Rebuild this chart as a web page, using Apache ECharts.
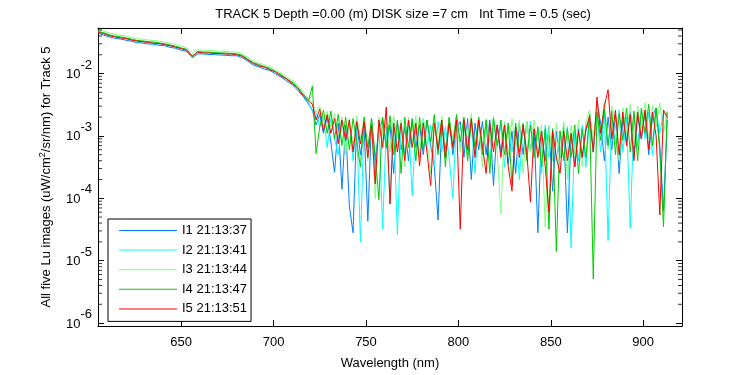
<!doctype html>
<html><head><meta charset="utf-8" />
<style>html,body,#app{margin:0;padding:0;width:750px;height:375px;background:#fff}</style>
</head><body><div id="app"></div>
<script src="https://cdn.jsdelivr.net/npm/echarts@6/dist/echarts.min.js"></script>
<script>
// wavelength grid (nm): coarse over the smooth part, finer over the noisy tail
const wavelength = [605,608,611,614,617,620,623,626,629,632,635,638,641,644,647,650,653,656,659,662,665,668,671,674,677,680,683,686,689,692,695,698,701,704,707,710,713,716,719,
  721,723,725,727,729,731,733,735,737,739,741,743,745,747,749,751,753,755,757,759,761,763,765,767,769,771,773,775,777,779,781,783,785,787,789,791,793,795,797,799,
  801,803,805,807,809,811,813,815,817,819,821,823,825,827,829,831,833,835,837,839,841,843,845,847,849,851,853,855,857,859,861,863,865,867,869,871,873,875,877,879,
  881,883,885,887,889,891,893,895,897,899,901,903,905,907,909,911,913];

// Lu, uW/cm^2/sr/nm, one list per image
const lu1 = [0.0445,0.0412,0.0388,0.0368,0.0358,0.0343,0.0330,0.0312,0.0309,0.0298,0.0295,0.0284,0.0279,0.0263,0.0254,0.0237,0.0226,0.0180,0.0206,0.0206,0.0202,0.0201,0.0198,0.0196,0.0193,0.0193,0.0180,0.0158,0.0137,0.0128,0.0118,0.0112,0.0099,0.0088,0.0076,0.0067,0.0054,0.0043,0.0032,
  2.6e-3,1.5e-3,2.2e-3,1.1e-3,2.0e-3,8.0e-4,2.6e-4,1.6e-3,1.4e-4,1.5e-3,
  7.6e-5,2.8e-5,1.7e-3,5.0e-4,1.4e-3,4.3e-5,1.8e-3,4.0e-4,1.2e-3,1.9e-3,
  6.3e-4,1.5e-3,2.5e-4,1.7e-3,6.0e-4,1.4e-3,4.0e-4,1.9e-3,6.5e-4,1.5e-3,
  5.0e-4,1.8e-3,7.0e-4,3.2e-4,4.5e-5,1.6e-3,6.0e-4,1.9e-3,5.0e-4,1.4e-3,
  1.7e-3,4.5e-4,1.9e-3,2.0e-4,1.6e-3,6.0e-4,1.7e-3,5.0e-4,1.8e-3,1.6e-4,
  1.5e-3,5.5e-4,1.6e-3,3.5e-4,1.2e-3,2.5e-4,1.6e-3,5.0e-4,1.7e-3,6.0e-4,
  1.3e-3,2.8e-5,1.2e-3,4.0e-4,1.4e-3,1.3e-4,1.2e-3,4.5e-4,1.5e-3,2.8e-5,
  1.1e-3,3.2e-4,1.3e-3,4.5e-4,1.2e-3,1.9e-3,5.5e-4,3.2e-3,1.6e-3,4.0e-4,
  2.0e-3,6.0e-4,2.2e-3,2.5e-4,1.9e-3,8.0e-4,2.4e-3,5.5e-4,2.1e-3,9.0e-4,
  2.4e-3,5.0e-4,2.0e-3,2.8e-3,7.0e-4,6.3e-5,1.8e-3];
const lu2 = [0.0462,0.0440,0.0410,0.0386,0.0378,0.0360,0.0349,0.0328,0.0326,0.0313,0.0311,0.0300,0.0294,0.0277,0.0268,0.0249,0.0238,0.0188,0.0218,0.0217,0.0213,0.0212,0.0208,0.0208,0.0203,0.0203,0.0192,0.0167,0.0144,0.0135,0.0125,0.0118,0.0104,0.0094,0.0080,0.0071,0.0057,0.0046,0.0034,
  2.5e-3,2.4e-3,1.4e-3,2.0e-3,6.5e-4,1.9e-3,9.0e-4,5.0e-4,1.7e-3,6.5e-4,
  1.6e-3,4.0e-4,1.5e-3,2.0e-5,1.7e-3,5.5e-4,1.5e-3,2.5e-4,1.8e-3,3.2e-5,
  1.4e-3,8.1e-5,1.6e-3,2.6e-5,1.5e-3,5.0e-4,1.8e-3,1.1e-4,1.5e-3,4.5e-4,
  1.9e-3,6.0e-4,1.5e-3,3.2e-4,1.7e-3,5.5e-4,1.4e-3,4.5e-4,1.0e-4,1.9e-3,
  6.5e-4,1.8e-3,5.0e-4,1.6e-3,2.5e-4,1.9e-3,6.0e-4,1.6e-3,4.0e-4,1.8e-3,
  6.5e-4,1.5e-3,3.2e-4,1.6e-3,5.5e-4,1.4e-3,2.0e-4,1.5e-3,5.0e-4,1.7e-3,
  4.5e-4,1.3e-3,2.5e-4,1.5e-3,4.5e-4,1.3e-3,4.0e-4,1.2e-3,4.5e-4,1.4e-3,
  1.6e-5,1.2e-3,4.0e-4,1.5e-3,3.2e-4,1.9e-3,6.5e-4,2.2e-3,5.5e-4,2.4e-3,
  2.1e-5,2.2e-3,7.5e-4,2.6e-3,5.5e-4,2.0e-3,3.3e-5,2.3e-3,7.0e-4,2.6e-3,
  9.0e-4,2.4e-3,5.0e-4,2.6e-3,1.1e-3,2.4e-3,2.0e-3];
const lu3 = [0.0500,0.0480,0.0445,0.0425,0.0412,0.0398,0.0380,0.0362,0.0355,0.0345,0.0338,0.0330,0.0320,0.0305,0.0292,0.0275,0.0258,0.0215,0.0240,0.0236,0.0234,0.0232,0.0228,0.0227,0.0223,0.0221,0.0210,0.0182,0.0158,0.0148,0.0137,0.0128,0.0115,0.0102,0.0088,0.0078,0.0064,0.0051,0.0039,
  3.4e-3,2.4e-3,3.0e-3,1.7e-3,2.5e-3,1.4e-3,2.3e-3,1.0e-3,2.0e-3,5.0e-4,
  1.9e-3,7.0e-4,2.1e-3,9.0e-4,2.0e-3,4.0e-4,1.9e-3,1.0e-4,2.0e-3,7.0e-4,
  1.9e-3,5.5e-4,2.1e-3,9.0e-4,1.8e-3,3.2e-4,2.0e-3,8.0e-4,2.1e-3,5.0e-4,
  1.9e-3,9.0e-4,2.5e-4,1.9e-3,7.0e-4,2.1e-3,5.0e-4,1.9e-3,9.0e-4,2.2e-3,
  5.5e-4,2.0e-3,9.0e-4,2.3e-3,5.0e-4,2.0e-3,3.2e-4,1.9e-3,8.0e-4,2.1e-3,
  5.5e-4,5.6e-5,1.7e-3,5.0e-4,1.9e-3,7.0e-4,1.8e-3,2.5e-4,1.7e-3,5.5e-4,
  1.8e-3,5.0e-4,1.5e-3,3.5e-5,1.5e-3,4.0e-4,1.6e-3,4.5e-4,1.7e-3,2.0e-4,
  1.5e-3,5.0e-4,1.8e-3,3.2e-4,1.7e-3,2.6e-3,9.0e-4,3.0e-3,1.2e-3,3.6e-3,
  6.0e-4,3.0e-3,1.5e-3,4.0e-4,2.8e-3,1.1e-3,3.2e-3,7.0e-4,3.0e-3,1.3e-3,
  3.4e-3,9.0e-4,3.0e-3,1.4e-3,3.4e-3,1.1e-3,2.6e-3];
const lu4 = [0.0472,0.0452,0.0418,0.0398,0.0388,0.0372,0.0358,0.0340,0.0335,0.0324,0.0320,0.0309,0.0301,0.0286,0.0275,0.0257,0.0245,0.0185,0.0226,0.0221,0.0220,0.0218,0.0214,0.0214,0.0210,0.0208,0.0196,0.0172,0.0149,0.0140,0.0129,0.0121,0.0108,0.0096,0.0083,0.0073,0.0060,0.0047,0.0037,
  6.3e-3,5.2e-4,1.4e-3,2.6e-3,1.1e-3,2.5e-3,9.0e-4,2.2e-3,7.0e-4,2.0e-3,
  6.0e-4,1.9e-3,8.0e-4,3.2e-4,2.0e-3,6.5e-4,1.9e-3,5.0e-4,9.5e-5,2.0e-3,
  6.5e-4,2.1e-3,5.0e-4,1.8e-3,2.5e-4,2.0e-3,6.5e-4,1.8e-3,4.0e-4,2.0e-3,
  6.0e-4,1.8e-3,8.0e-4,2.2e-3,5.0e-4,1.8e-3,3.2e-4,2.0e-3,6.5e-4,2.2e-3,
  8.0e-4,2.0e-3,4.0e-4,1.8e-3,6.5e-4,2.0e-3,5.0e-4,1.8e-3,2.5e-4,1.9e-3,
  7.0e-4,1.8e-3,5.0e-4,1.6e-3,1.6e-4,1.6e-3,5.5e-4,1.6e-3,4.0e-4,1.5e-3,
  4.5e-4,1.4e-3,3.2e-4,1.3e-3,3.2e-5,1.3e-3,1.4e-5,1.2e-3,4.0e-4,1.3e-3,
  4.5e-4,1.5e-3,2.5e-4,1.3e-3,4.5e-4,2.2e-3,5.1e-6,2.4e-3,8.5e-4,2.7e-3,
  7.0e-4,2.5e-3,5.0e-4,2.3e-3,8.5e-4,2.8e-3,5.5e-4,2.5e-3,4.0e-4,2.8e-3,
  1.1e-3,3.2e-3,7.0e-4,2.8e-3,5.5e-4,3.5e-5,2.4e-3];
const lu5 = [0.0460,0.0435,0.0405,0.0390,0.0372,0.0365,0.0344,0.0333,0.0322,0.0318,0.0306,0.0303,0.0290,0.0280,0.0264,0.0252,0.0235,0.0192,0.0220,0.0214,0.0215,0.0209,0.0210,0.0205,0.0206,0.0200,0.0190,0.0165,0.0146,0.0133,0.0127,0.0115,0.0106,0.0091,0.0082,0.0069,0.0059,0.0044,0.0036,
  3.2e-3,1.8e-3,2.7e-3,1.2e-3,2.2e-3,1.1e-3,1.9e-3,7.5e-4,1.8e-3,8.5e-4,
  1.8e-3,5.5e-4,1.7e-3,7.5e-4,1.7e-3,4.5e-4,1.5e-3,1.7e-4,1.8e-3,6.5e-4,
  2.9e-3,8.1e-5,1.6e-3,5.5e-4,1.6e-3,4.0e-4,1.8e-3,6.5e-4,1.6e-3,3.3e-4,
  1.6e-3,5.5e-4,1.6e-4,1.6e-3,6.0e-4,1.8e-3,4.5e-4,1.6e-3,6.5e-4,1.8e-3,
  3.2e-5,1.8e-3,6.0e-4,1.9e-3,4.5e-4,1.8e-3,7.0e-4,2.5e-4,1.6e-3,5.5e-4,
  1.5e-3,4.5e-4,1.5e-3,3.2e-4,1.3e-4,1.4e-3,4.5e-4,1.5e-3,5.5e-4,8.7e-5,
  1.3e-3,4.5e-4,1.2e-3,3.2e-4,6.0e-5,1.2e-3,4.5e-4,2.5e-4,1.2e-3,4.0e-4,
  1.1e-3,3.2e-4,1.2e-3,4.5e-4,1.3e-3,2.1e-3,5.5e-4,4.2e-3,1.1e-3,3.0e-3,
  5.5e-3,9.0e-4,2.6e-3,5.0e-4,2.4e-3,7.0e-4,2.2e-3,4.0e-4,2.4e-3,9.0e-4,
  2.6e-3,6.0e-4,2.4e-3,1.0e-3,5.4e-5,2.6e-3,2.0e-3];

const seriesNames = ['I1 21:13:37','I2 21:13:41','I3 21:13:44','I4 21:13:47','I5 21:13:51'];
const seriesColors = ['#0080ff','#00ffff','#80ff80','#00cc00','#ff0000'];
const luAll = [lu1, lu2, lu3, lu4, lu5];

const xMin = 605, xMax = 921;
const yMin = 8.97e-7, yMax = 0.0537;
const majorExp = [-6,-5,-4,-3,-2];
const minorMant = [2,3,4,5,6,7,8,9];

const FONT = '"Liberation Sans", Arial, Helvetica, sans-serif';

const chart = echarts.init(document.getElementById('app'));

// minor log ticks (2..9 x 10^n), drawn as tiny marks on both side edges
const minorTicks = [];
majorExp.forEach(e => minorMant.forEach(m => { const v = m * Math.pow(10, e); if (v < yMax) minorTicks.push(v); }));

const lineSeries = seriesNames.map((name, k) => ({
  name: name, type: 'line',
  data: wavelength.map((w, i) => [w, luAll[k][i]]),
  showSymbol: false, symbol: 'none',
  lineStyle: { width: 1, color: seriesColors[k] },
  itemStyle: { color: seriesColors[k] },
  z: 2 + k
}));

const tickMark = (x, off) => ({
  type: 'scatter', data: minorTicks.map(v => [x, v]), symbol: 'rect',
  symbolSize: [4, 1], symbolOffset: [off, 0], itemStyle: { color: '#000' },
  silent: true, clip: false, z: 10
});

const axisBase = {
  axisLine: { show: true, lineStyle: { color: '#000', width: 1 } },
  axisTick: { show: true, inside: true, length: 6, lineStyle: { color: '#000' } },
  splitLine: { show: false }
};

chart.setOption({
  animation: false,
  backgroundColor: '#fff',
  textStyle: { fontFamily: FONT },
  title: {
    text: 'TRACK 5 Depth =0.00 (m) DISK size =7 cm   Int Time = 0.5 (sec)',
    left: 398, top: 3, textAlign: 'center',
    textStyle: { fontFamily: FONT, fontSize: 13, fontWeight: 'normal', color: '#000' }
  },
  grid: { left: 98, right: 68, top: 28, bottom: 44 },
  legend: {
    data: seriesNames, orient: 'vertical', left: 108, top: 219,
    icon: 'rect', itemWidth: 58, itemHeight: 1, itemGap: 6.6,
    padding: [5, 4, 6, 11], borderColor: '#000', borderWidth: 1, backgroundColor: '#fff',
    textStyle: { fontFamily: FONT, fontSize: 13, lineHeight: 13, color: '#000' }
  },
  xAxis: [
    Object.assign({}, axisBase, {
      type: 'value', position: 'bottom', min: xMin, max: xMax,
      name: 'Wavelength (nm)', nameLocation: 'middle', nameGap: 31,
      nameTextStyle: { fontFamily: FONT, fontSize: 13, color: '#000' },
      axisLabel: { color: '#000', fontSize: 13, fontFamily: FONT, margin: 10,
        formatter: v => (v % 50 === 0 ? String(v) : '') }
    }),
    Object.assign({}, axisBase, {
      type: 'value', position: 'top', min: xMin, max: xMax, axisLabel: { show: false }
    })
  ],
  yAxis: [
    Object.assign({}, axisBase, {
      type: 'log', logBase: 10, position: 'left', min: yMin, max: yMax,
      name: '{a|All five Lu images (uW/cm}{s|2}{a|/sr/nm) for Track 5}',
      nameLocation: 'middle', nameGap: 45, nameRotate: 90,
      nameTextStyle: { color: '#000', rich: {
        a: { fontFamily: FONT, fontSize: 13, lineHeight: 13, color: '#000' },
        s: { fontFamily: FONT, fontSize: 9, lineHeight: 9, color: '#000', padding: [0, 0, 8, 0] }
      } },
      axisLabel: {
        margin: 6,
        formatter: function (v) {
          const l = Math.log10(v), e = Math.round(l);
          if (Math.abs(l - e) > 1e-6 || majorExp.indexOf(e) < 0) return '';
          return '{b|10}{e|' + e + '}';
        },
        rich: {
          b: { fontFamily: FONT, fontSize: 13, lineHeight: 13, color: '#000', padding: [9.5, 0, 7.5, 0] },
          e: { fontFamily: FONT, fontSize: 13, lineHeight: 13, color: '#000', padding: [0, 0, 17, 0] }
        }
      }
    }),
    Object.assign({}, axisBase, {
      type: 'log', logBase: 10, position: 'right', min: yMin, max: yMax, axisLabel: { show: false }
    })
  ],
  series: lineSeries.concat([tickMark(xMin, 2), tickMark(xMax, -2)])
});
</script></body></html>
